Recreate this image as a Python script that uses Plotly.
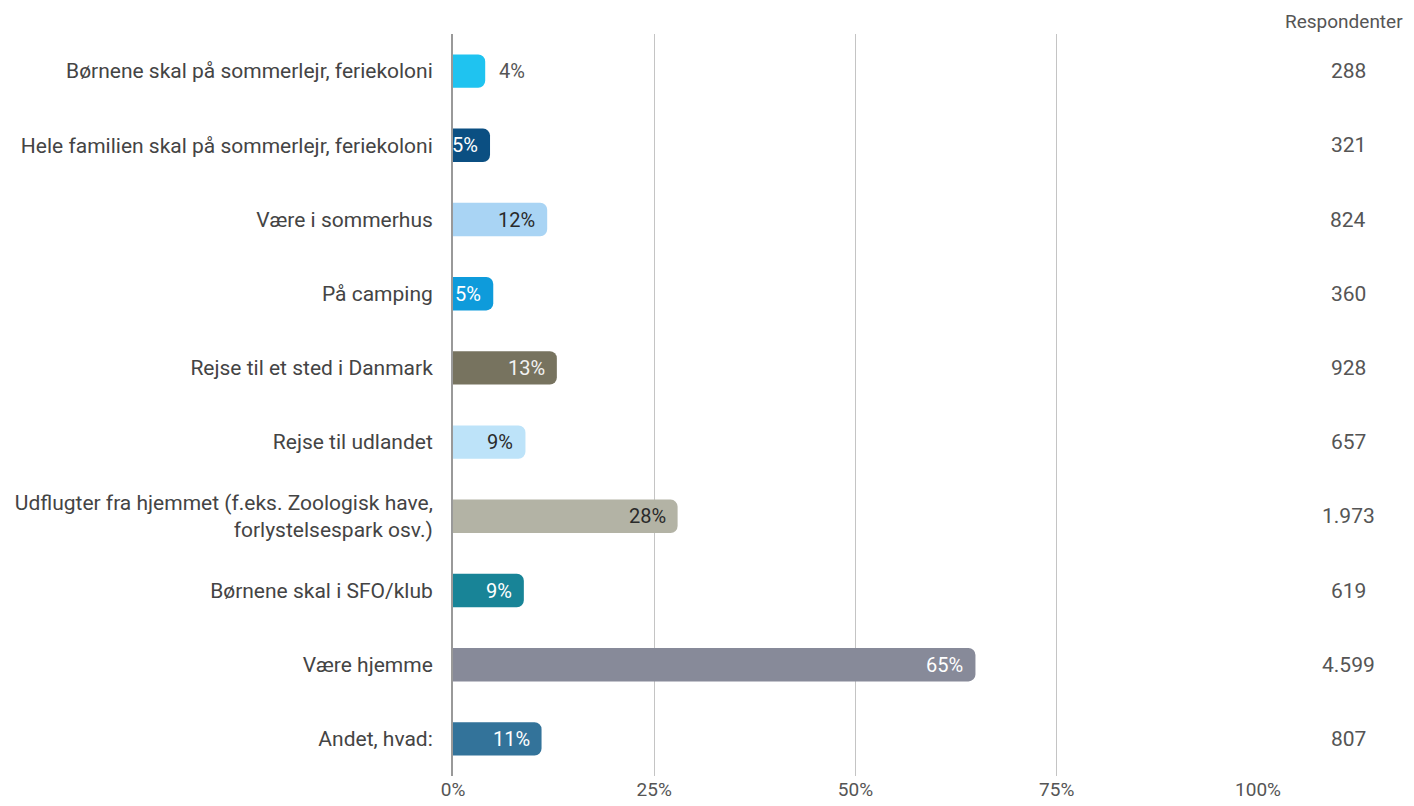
import plotly.graph_objects as go

# Data
categories = [
    "Børnene skal på sommerlejr, feriekoloni",
    "Hele familien skal på sommerlejr, feriekoloni",
    "Være i sommerhus",
    "På camping",
    "Rejse til et sted i Danmark",
    "Rejse til udlandet",
    "Udflugter fra hjemmet (f.eks. Zoologisk have,<br>forlystelsespark osv.)",
    "Børnene skal i SFO/klub",
    "Være hjemme",
    "Andet, hvad:",
]
shares = [4.0, 4.6, 11.7, 5.0, 12.9, 9.0, 27.9, 8.8, 64.9, 11.0]
share_labels = ["4%", "5%", "12%", "5%", "13%", "9%", "28%", "9%", "65%", "11%"]
respondents = ["288", "321", "824", "360", "928", "657", "1.973", "619", "4.599", "807"]

bar_colors = ["#1FC3F0", "#0B4F82", "#A9D4F4", "#0E9BDB", "#77735F",
              "#BDE3F9", "#B3B3A5", "#188497", "#878A99", "#33739A"]
label_colors = ["#555555", "#FFFFFF", "#2A2A2A", "#FFFFFF", "#F2F2F2",
                "#2A2A2A", "#2A2A2A", "#FFFFFF", "#FFFFFF", "#FFFFFF"]
label_inside = [False, True, True, True, True, True, True, True, True, True]

fig = go.Figure()

fig.add_trace(
    go.Bar(
        y=categories,
        x=shares,
        orientation='h',
        marker=dict(color=bar_colors, cornerradius=7, line=dict(width=0)),
        width=0.45,
        hoverinfo='skip',
        showlegend=False,
    )
)

# Percentage labels at bar ends
for cat, val, lab, col, inside in zip(categories, shares, share_labels, label_colors, label_inside):
    fig.add_annotation(
        x=val, y=cat, xref='x', yref='y',
        text=lab,
        showarrow=False,
        xanchor='right' if inside else 'left',
        xshift=-10 if inside else 12,
        font=dict(size=20, color=col, family='Roboto'),
    )

# Respondents column
fig.add_annotation(
    x=1.107, y=1.0, xref='paper', yref='paper',
    text="Respondenter", showarrow=False,
    xanchor='center', yanchor='bottom', yshift=-1,
    font=dict(size=19, color='#555555', family='Roboto'),
)
for cat, n in zip(categories, respondents):
    fig.add_annotation(
        x=1.112, y=cat, xref='paper', yref='y',
        text=n, showarrow=False,
        xanchor='center',
        font=dict(size=21, color='#555555', family='Roboto'),
    )

fig.update_layout(
    width=1406,
    height=798,
    paper_bgcolor='white',
    plot_bgcolor='white',
    font=dict(family='Roboto', color='#444444'),
    margin=dict(l=445, r=156, t=26, b=30),
    bargap=0.55,
)

fig.update_xaxes(
    range=[0, 100],
    tickvals=[0, 25, 50, 75, 100],
    ticktext=["0%", "25%", "50%", "75%", "100%"],
    showgrid=True,
    gridcolor='#C4C4C4',
    gridwidth=1,
    zeroline=False,
    ticks='',
    tickfont=dict(size=19, color='#555555'),
    showline=False,
    automargin=False,
)

fig.update_yaxes(
    autorange='reversed',
    showgrid=False,
    showline=True,
    linecolor='#999999',
    linewidth=2,
    ticks='',
    ticklabelstandoff=14,
    tickfont=dict(size=21, color='#444444'),
    automargin=False,
)

fig.write_html("out.html")
